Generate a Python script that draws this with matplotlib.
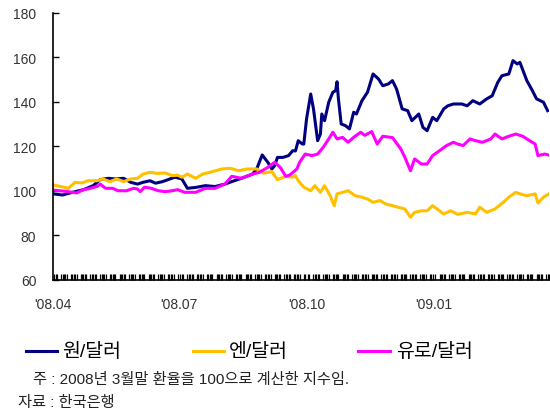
import matplotlib
matplotlib.use('Agg')
import matplotlib.pyplot as plt
import matplotlib.dates as mdates
from matplotlib.lines import Line2D
import pandas as pd

# index, end of March 2008 = 100; x given as days after 2008-04-01
START = '2008-04-01'
END_DAY = 358

won_days = [0, 7, 14, 22, 29, 34, 40, 45, 51, 56, 61, 65, 70, 74, 79, 83, 88, 93, 97,
            103, 110, 117, 124, 129, 136, 144, 147, 151, 155, 158, 160, 162, 166, 170,
            173, 175, 177, 180, 181, 183, 186, 188, 191, 193, 194, 196, 199, 202, 204,
            205, 206, 208, 211, 214, 217, 219, 223, 227, 231, 235, 238, 242, 245, 248,
            252, 256, 259, 264, 267, 270, 274, 277, 282, 285, 289, 295, 299, 303, 308,
            313, 317, 321, 324, 329, 332, 335, 337, 342, 346, 349, 354, 357]
won = [98.7, 98.2, 99.4, 100.6, 102.4, 105.1, 105.7, 105.4, 105.7, 103.9, 103.1, 103.9,
       104.6, 103.5, 104.2, 105.1, 106.2, 105.4, 101.2, 101.6, 102.4, 102.0, 103.1, 104.2,
       105.7, 107.6, 109.9, 116.2, 112.9, 109.9, 111.4, 115.1, 115.1, 115.9, 118.1, 118.0,
       122.6, 121.1, 121.1, 132.4, 143.6, 136.9, 122.6, 125.6, 134.6, 131.6, 139.9, 144.4,
       145.1, 149.1, 141.4, 130.1, 129.4, 127.9, 135.4, 134.6, 140.6, 144.4, 152.6, 150.3,
       147.3, 148.1, 149.6, 145.8, 136.9, 136.1, 131.6, 134.6, 128.6, 127.1, 133.1, 131.6,
       136.9, 138.3, 139.1, 139.1, 138.3, 140.6, 139.1, 141.4, 142.8, 148.8, 151.8, 152.6,
       158.6, 157.1, 157.8, 149.6, 145.1, 141.4, 139.9, 136.1]

yen_days = [0, 5, 11, 16, 21, 25, 32, 36, 41, 46, 51, 56, 61, 65, 70, 75, 81, 86, 90, 93,
            97, 103, 108, 115, 122, 128, 134, 140, 147, 152, 158, 162, 168, 173, 175, 177,
            181, 186, 189, 193, 196, 200, 203, 205, 209, 213, 218, 223, 227, 231, 236, 240,
            245, 249, 254, 258, 261, 266, 270, 274, 282, 287, 292, 299, 305, 308, 313, 319,
            325, 329, 334, 337, 342, 348, 350, 354, 358]
yen = [102.7, 102.1, 101.2, 103.9, 103.6, 104.6, 104.6, 105.4, 104.2, 105.4, 104.2, 105.4,
       105.7, 107.6, 108.4, 107.9, 108.1, 106.9, 107.1, 106.2, 107.6, 105.7, 107.6, 108.7,
       109.9, 110.2, 109.1, 109.9, 109.9, 108.0, 108.7, 105.1, 106.6, 106.2, 106.9, 104.6,
       101.7, 100.1, 102.4, 99.4, 102.4, 97.9, 93.4, 98.7, 99.4, 100.1, 97.9, 97.2, 96.4,
       94.9, 95.7, 94.2, 93.4, 92.7, 91.9, 88.2, 90.4, 91.1, 91.1, 93.4, 89.7, 91.1, 89.5,
       90.4, 89.7, 92.7, 90.4, 91.9, 94.9, 97.2, 99.4, 98.7, 97.9, 98.7, 94.6, 97.2, 98.7]

eur_days = [0, 5, 11, 17, 22, 27, 32, 34, 38, 43, 47, 53, 58, 61, 63, 66, 71, 76, 81, 86,
            90, 95, 103, 110, 117, 124, 129, 136, 144, 149, 155, 160, 164, 168, 171, 176,
            178, 182, 187, 191, 195, 199, 202, 205, 209, 213, 217, 222, 225, 230, 234, 238,
            245, 251, 254, 258, 261, 266, 270, 274, 279, 284, 289, 292, 296, 301, 305, 310,
            316, 319, 324, 329, 334, 339, 344, 348, 350, 355, 358]
eur = [100.4, 100.1, 99.7, 99.1, 100.6, 101.2, 102.1, 103.1, 101.2, 101.2, 100.1, 100.1,
       101.2, 100.9, 99.7, 101.7, 101.2, 100.1, 99.7, 100.1, 100.6, 99.4, 99.4, 101.2,
       101.2, 103.1, 106.6, 105.7, 107.6, 108.4, 110.6, 112.9, 110.6, 106.6, 107.2, 109.9,
       112.9, 116.6, 115.9, 116.6, 119.6, 123.4, 126.4, 123.4, 124.1, 121.9, 124.1, 126.4,
       125.0, 126.7, 121.1, 124.6, 124.0, 118.9, 115.1, 109.1, 114.4, 112.1, 112.1, 115.9,
       118.1, 120.4, 121.9, 121.1, 120.4, 123.4, 122.6, 121.9, 123.4, 125.6, 123.4, 124.6,
       125.6, 124.6, 122.6, 121.1, 115.9, 116.6, 116.1]

labels = ['원/달러', '엔/달러', '유로/달러']
colors = ['#000080', '#FFC000', '#FF00FF']
note = '주 : 2008년 3월말 환율을 100으로 계산한 지수임.'
source = '자료 : 한국은행'

plt.rcParams['font.family'] = ['Noto Sans CJK KR', 'DejaVu Sans']
mixed = ['Liberation Sans', 'Noto Sans CJK KR']

start = pd.Timestamp(START)
def to_dates(days):
    return start + pd.to_timedelta(days, unit='D')

fig = plt.figure(figsize=(5.5, 4.14), dpi=100)
ax = fig.add_axes([0.0964, 0.3213, 0.9018, 0.6449])

series = [(won_days, won), (yen_days, yen), (eur_days, eur)]
for (d, v), c in zip(series, colors):
    ax.plot(to_dates(d), v, color=c, lw=2.2, solid_joinstyle='round')

ax.set_ylim(60, 180)
ax.set_yticks(range(60, 181, 20))
ax.set_xlim(start, to_dates([END_DAY])[0])

ax.xaxis.set_major_locator(mdates.MonthLocator(bymonth=[1, 4, 7, 10]))
ax.xaxis.set_major_formatter(mdates.DateFormatter("'%y.%m"))
bdays = pd.bdate_range(start, to_dates([END_DAY])[0])
ax.xaxis.set_minor_locator(matplotlib.ticker.FixedLocator(mdates.date2num(bdays)))

for s in ['top', 'right']:
    ax.spines[s].set_visible(False)
for s in ['left', 'bottom']:
    ax.spines[s].set_linewidth(1.2)

ax.tick_params(axis='y', direction='in', length=4, width=1, pad=12,
               labelsize=10, labelcolor='#333333', labelfontfamily='Liberation Sans')
ax.tick_params(axis='x', which='major', length=0, pad=12,
               labelsize=10, labelcolor='#333333', labelfontfamily='Liberation Sans')
ax.tick_params(axis='x', which='minor', direction='in', length=4, width=0.9, color='black')

# legend drawn under the axes
leg_y = 1 - 352 / 414
for (x0, x1, xt), lab, c in zip([(26, 57, 62), (193, 224, 229), (358, 390, 396)], labels, colors):
    fig.add_artist(Line2D([x0 / 550, x1 / 550], [leg_y, leg_y], color=c, lw=2.2,
                          transform=fig.transFigure))
    fig.text(xt / 550, leg_y, lab, fontsize=14, va='center', ha='left', family=mixed)

fig.text(33 / 550, 1 - 380 / 414, note, fontsize=11, va='center', ha='left',
         color='#222222', family=mixed)
fig.text(18 / 550, 1 - 403 / 414, source, fontsize=11, va='center', ha='left',
         color='#222222', family=mixed)

fig.savefig('out.png', dpi=100)
